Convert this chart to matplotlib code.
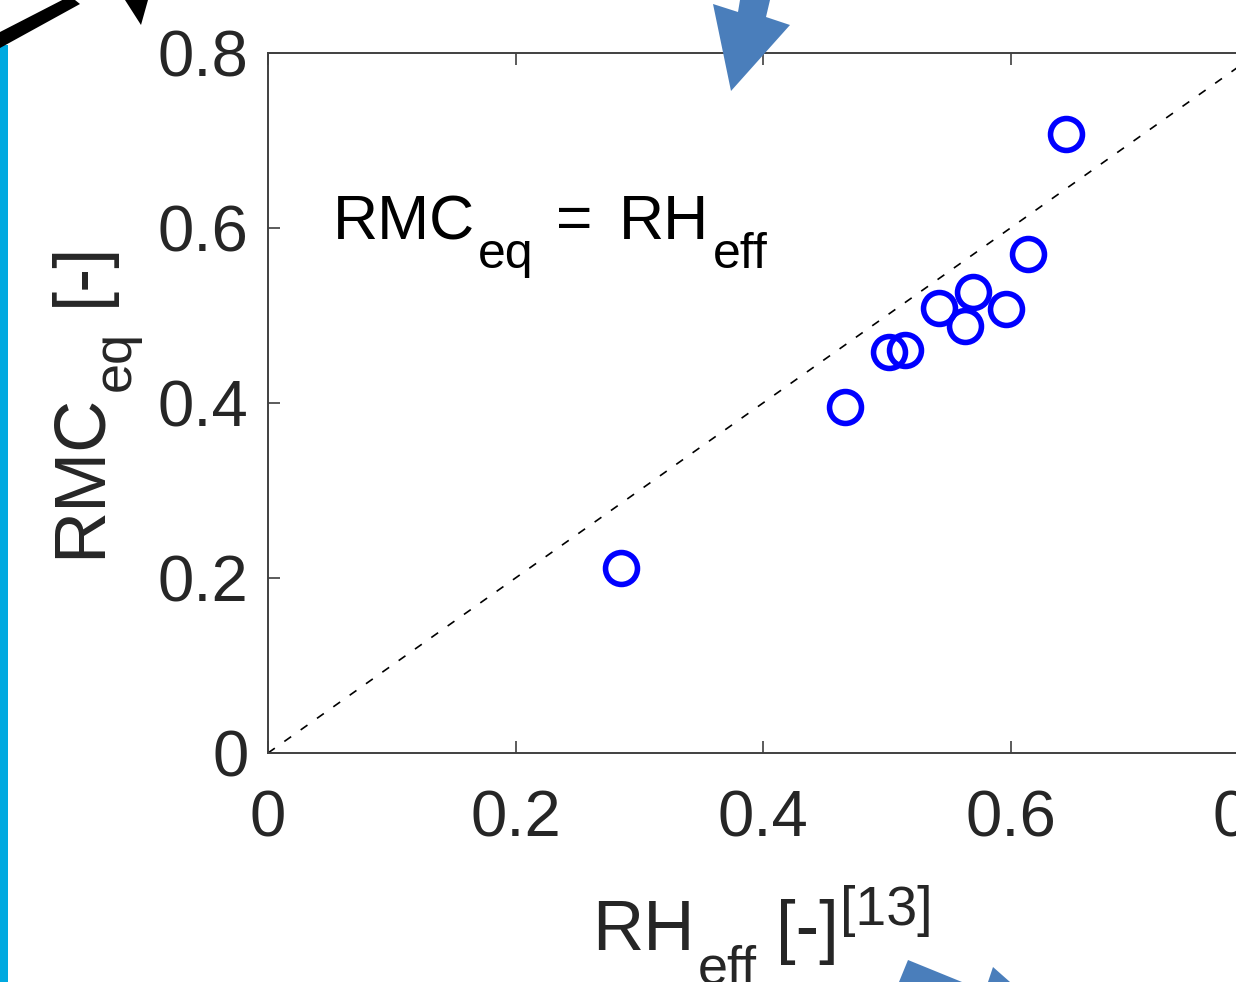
"""RMC_eq against RH_eff scatter with the 1:1 reference line."""

import matplotlib
matplotlib.use("Agg")
import matplotlib.pyplot as plt
from matplotlib.patches import Polygon

plt.rcParams["font.family"] = ["Liberation Sans", "DejaVu Sans"]

# measured points
rh_eff = [0.285, 0.466, 0.502, 0.515, 0.542, 0.563, 0.570, 0.596, 0.614, 0.645]
rmc_eq = [0.211, 0.395, 0.458, 0.461, 0.509, 0.488, 0.527, 0.507, 0.570, 0.707]

ref_line = [0, 0.8]
ticks = [0, 0.2, 0.4, 0.6, 0.8]
tick_labels = ["0", "0.2", "0.4", "0.6", "0.8"]

W, H = 1236, 982
TXT = "#262626"

fig = plt.figure(figsize=(W / 100, H / 100), dpi=100)
fig.patch.set_facecolor("white")
renderer = fig.canvas.get_renderer()

# axes run past the right edge of the canvas
ax = fig.add_axes([268 / W, 229 / H, 990 / W, 700 / H])
ax.plot(ref_line, ref_line, color="black", lw=1.2, dashes=(5, 7))
ax.plot(rh_eff, rmc_eq, "o", mfc="none", mec="#0000ff", ms=23, mew=4)

ax.set_xlim(0, 0.8)
ax.set_ylim(0, 0.8)
ax.set_xticks(ticks)
ax.set_xticklabels(tick_labels)
ax.set_yticks(ticks)
ax.set_yticklabels(tick_labels)

for sp in ax.spines.values():
    sp.set_color("#404040")
    sp.set_linewidth(1.4)
ax.tick_params(direction="in", length=8.5, width=1.2, color="#404040",
               top=True, right=True, labelsize=47, labelcolor=TXT)
ax.tick_params(axis="x", pad=26)
ax.tick_params(axis="y", pad=14)


def rich_text(x0, y0, pieces, color=TXT, rotation=0):
    """Lay out TeX-like pieces (text, size, baseline shift px, gap em) from a
    baseline start point given in pixels from the bottom-left corner."""
    pos = 0.0
    for s, size, dy, gap in pieces:
        probe = fig.text(0, 0, s, fontsize=size)
        width = probe.get_window_extent(renderer).width
        probe.remove()
        if rotation == 0:
            x, y = x0 + pos, y0 + dy
        else:
            x, y = x0 - dy, y0 + pos
        fig.text(x / W, y / H, s, fontsize=size, color=color,
                 rotation=rotation, rotation_mode="anchor",
                 ha="left", va="baseline")
        pos += width + gap * size * 100 / 72


# axis labels with MATLAB-style sub/superscripts
rich_text(100, H - 558, [("RMC", 52, 0, 0.04), ("eq", 39, -30, 0.45),
                         ("[-]", 52, 0, 0)], rotation=90)
rich_text(592, H - 950, [("RH", 51, 0, 0.05), ("eff", 39, -33, 0.35),
                         ("[-]", 51, 0, 0.02), ("[13]", 40, 25, 0)])

# 1:1 annotation inside the axes
rich_text(333, H - 239, [("RMC", 45, 0, 0.04), ("eq", 36, -29, 0.45),
                         ("=", 45, 0, 0.42), ("RH", 45, 0, 0.06),
                         ("eff", 36, -29, 0)], color="black")


def fpoly(pts, color):
    # polygon given in canvas pixels, measured from the top-left corner
    xy = [(x / W, 1 - y / H) for x, y in pts]
    fig.patches.append(Polygon(xy, closed=True, transform=fig.transFigure,
                               facecolor=color, edgecolor="none", zorder=5))


# cyan bar and black connector on the left border
fpoly([(0, 45), (8, 45), (8, H), (0, H)], "#00a9e0")
fpoly([(0, 32), (70, -4), (80, 4), (0, 48)], "black")
fpoly([(125, 0), (148, 0), (141, 25)], "black")

# blue arrows crossing the frame
fpoly([(740, 0), (738, 12), (713, 4), (731, 91), (790, 25), (766, 17), (770, 0)], "#4a7ebb")
fpoly([(908, 960), (962, 982), (899, 982)], "#4a7ebb")
fpoly([(993, 967), (1010, 982), (988, 982)], "#4a7ebb")

fig.savefig("out.png", dpi=100, facecolor="white")
